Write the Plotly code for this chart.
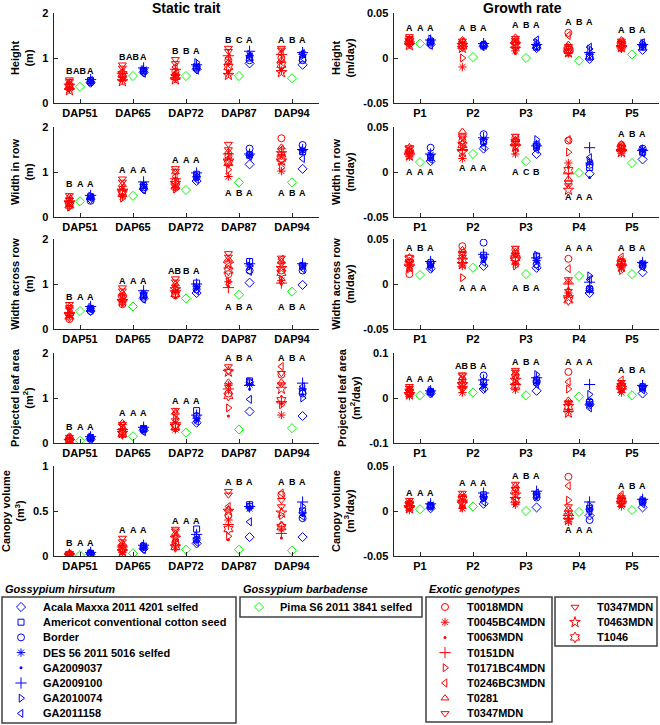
import plotly.graph_objects as go

W, H = 660, 725

static_cats = ["DAP51", "DAP65", "DAP72", "DAP87", "DAP94"]
rate_cats = ["P1", "P2", "P3", "P4", "P5"]

exotic_names = ["T0018MDN", "T0045BC4MDN", "T0063MDN", "T0151DN", "T0171BC4MDN",
                "T0246BC3MDN", "T0281", "T0347MDN", "T0347MDN", "T0463MDN", "T1046"]
hirsutum_names = ["Acala Maxxa 2011 4201 selfed", "Americot conventional cotton seed",
                  "Border", "DES 56 2011 5016 selfed", "GA2009037", "GA2009100",
                  "GA2010074", "GA2011158"]
barbadense_names = ["Pima S6 2011 3841 selfed"]

# ---- static traits: rows = genotype, columns = DAP51..DAP94
height_static_exotic = [
    [0.40, 0.62, 0.70, 0.95, 1.00], [0.30, 0.50, 0.55, 0.65, 0.72], [0.35, 0.58, 0.62, 0.85, 0.90],
    [0.42, 0.66, 0.75, 1.05, 1.08], [0.33, 0.55, 0.60, 0.75, 0.80], [0.45, 0.70, 0.80, 1.00, 1.10],
    [0.38, 0.60, 0.65, 0.90, 0.95], [0.52, 0.85, 0.97, 1.22, 1.22], [0.48, 0.78, 0.88, 1.15, 1.18],
    [0.28, 0.48, 0.52, 0.62, 0.68], [0.36, 0.64, 0.58, 0.80, 0.85]]
height_static_pima = [0.36, 0.60, 0.60, 0.60, 0.55]
height_static_hirsutum = [
    [0.45, 0.68, 0.75, 0.88, 0.85], [0.50, 0.72, 0.80, 1.00, 0.98], [0.46, 0.70, 0.78, 0.95, 0.95],
    [0.48, 0.75, 0.82, 1.05, 1.08], [0.44, 0.70, 0.76, 1.10, 1.15], [0.52, 0.78, 0.85, 1.15, 1.12],
    [0.47, 0.74, 0.90, 1.08, 1.05], [0.50, 0.66, 0.73, 1.02, 1.10]]
height_static_letters = [["B", "AB", "A"], ["B", "AB", "A"], ["B", "B", "A"], ["B", "C", "A"], ["A", "B", "A"]]
height_static_letter_y = [0.72, 1.02, 1.15, 1.40, 1.40]

wrow_static_exotic = [
    [0.30, 0.55, 0.80, 1.35, 1.75], [0.25, 0.45, 0.65, 0.90, 1.02], [0.28, 0.50, 0.70, 1.15, 1.20],
    [0.35, 0.60, 0.85, 1.40, 1.45], [0.22, 0.42, 0.62, 1.05, 1.10], [0.40, 0.65, 0.90, 1.30, 1.50],
    [0.45, 0.72, 1.00, 1.45, 1.55], [0.48, 0.85, 1.08, 1.62, 1.40], [0.38, 0.78, 1.02, 1.50, 1.35],
    [0.32, 0.58, 0.75, 1.25, 1.25], [0.26, 0.52, 0.68, 1.20, 1.30]]
wrow_static_pima = [0.35, 0.47, 0.60, 0.77, 0.77]
wrow_static_hirsutum = [
    [0.40, 0.62, 0.80, 1.17, 1.07], [0.45, 0.70, 0.95, 1.38, 1.45], [0.36, 0.66, 0.88, 1.52, 1.60],
    [0.44, 0.72, 0.90, 1.37, 1.48], [0.42, 0.65, 0.85, 1.36, 1.45], [0.48, 0.78, 0.98, 1.40, 1.50],
    [0.46, 0.68, 0.92, 1.38, 1.47], [0.43, 0.60, 0.83, 1.35, 1.30]]
wrow_static_letters = [["B", "A", "A"], ["A", "A", "A"], ["A", "A", "A"], ["A", "B", "A"], ["A", "B", "A"]]
wrow_static_letter_y = [0.73, 1.04, 1.27, 0.53, 0.53]

wacross_static_exotic = [
    [0.22, 0.55, 0.75, 1.22, 1.30], [0.30, 0.60, 0.80, 1.05, 1.08], [0.26, 0.52, 0.70, 0.95, 1.00],
    [0.35, 0.65, 0.85, 0.92, 1.02], [0.40, 0.70, 0.90, 1.05, 1.10], [0.45, 0.75, 0.95, 1.40, 1.55],
    [0.50, 0.80, 1.00, 1.55, 1.50], [0.55, 0.92, 1.12, 1.68, 1.45], [0.48, 0.85, 1.05, 1.60, 1.58],
    [0.33, 0.62, 0.88, 1.45, 1.35], [0.28, 0.68, 0.78, 1.30, 1.25]]
wacross_static_pima = [0.40, 0.50, 0.68, 0.76, 0.83]
wacross_static_hirsutum = [
    [0.40, 0.68, 0.80, 1.03, 0.98], [0.45, 0.75, 1.02, 1.50, 1.40], [0.40, 0.72, 0.88, 1.30, 1.30],
    [0.46, 0.80, 0.95, 1.40, 1.42], [0.42, 0.70, 0.90, 1.38, 1.38], [0.50, 0.85, 1.00, 1.45, 1.45],
    [0.48, 0.78, 0.92, 1.40, 1.40], [0.44, 0.66, 0.85, 1.28, 1.34]]
wacross_static_letters = [["B", "A", "A"], ["A", "A", "A"], ["AB", "B", "A"], ["A", "B", "A"], ["A", "B", "A"]]
wacross_static_letter_y = [0.71, 1.07, 1.29, 0.49, 0.49]

leaf_static_exotic = [
    [0.05, 0.25, 0.40, 1.10, 1.52], [0.02, 0.18, 0.30, 1.28, 0.62], [0.00, 0.15, 0.27, 0.60, 0.88],
    [0.08, 0.30, 0.45, 1.20, 0.92], [0.10, 0.35, 0.55, 0.78, 0.85], [0.12, 0.40, 0.65, 1.25, 1.70],
    [0.15, 0.45, 0.68, 1.35, 1.35], [0.13, 0.42, 0.73, 1.70, 1.55], [0.06, 0.28, 0.50, 1.60, 1.30],
    [0.04, 0.22, 0.38, 1.58, 1.20], [0.03, 0.20, 0.35, 1.05, 0.95]]
leaf_static_pima = [0.05, 0.15, 0.23, 0.30, 0.33]
leaf_static_hirsutum = [
    [0.08, 0.28, 0.45, 0.70, 0.60], [0.12, 0.32, 0.72, 1.38, 1.15], [0.10, 0.30, 0.60, 1.35, 1.10],
    [0.11, 0.33, 0.55, 1.30, 1.20], [0.09, 0.27, 0.50, 1.20, 1.08], [0.14, 0.35, 0.62, 1.28, 1.33],
    [0.13, 0.30, 0.52, 1.36, 1.00], [0.10, 0.25, 0.48, 0.97, 1.25]]
leaf_static_letters = [["B", "A", "A"], ["A", "A", "A"], ["A", "A", "A"], ["A", "B", "A"], ["A", "B", "A"]]
leaf_static_letter_y = [0.35, 0.66, 0.93, 1.88, 1.88]

canopy_static_exotic = [
    [0.01, 0.08, 0.15, 0.45, 0.68], [0.00, 0.04, 0.10, 0.40, 0.30], [0.00, 0.03, 0.08, 0.18, 0.20],
    [0.02, 0.10, 0.12, 0.35, 0.25], [0.01, 0.06, 0.18, 0.22, 0.45], [0.02, 0.12, 0.22, 0.55, 0.70],
    [0.03, 0.14, 0.25, 0.52, 0.35], [0.03, 0.20, 0.30, 0.72, 0.62], [0.02, 0.16, 0.28, 0.68, 0.55],
    [0.01, 0.05, 0.20, 0.50, 0.48], [0.00, 0.09, 0.10, 0.30, 0.32]]
canopy_static_pima = [0.01, 0.03, 0.07, 0.07, 0.06]
canopy_static_hirsutum = [
    [0.02, 0.08, 0.14, 0.21, 0.21], [0.03, 0.11, 0.30, 0.57, 0.50], [0.02, 0.10, 0.18, 0.55, 0.42],
    [0.03, 0.10, 0.20, 0.53, 0.48], [0.02, 0.09, 0.16, 0.52, 0.45], [0.04, 0.12, 0.24, 0.55, 0.60],
    [0.03, 0.11, 0.22, 0.54, 0.55], [0.01, 0.07, 0.15, 0.38, 0.44]]
canopy_static_letters = [["B", "A", "A"], ["A", "A", "A"], ["A", "A", "A"], ["A", "B", "A"], ["A", "B", "A"]]
canopy_static_letter_y = [0.15, 0.29, 0.39, 0.82, 0.82]

# ---- growth rates: rows = genotype, columns = P1..P5
height_rate_exotic = [
    [0.016, 0.014, 0.018, 0.028, 0.015], [0.015, -0.010, 0.008, 0.005, 0.010], [0.013, 0.012, 0.005, 0.003, 0.008],
    [0.018, 0.016, 0.012, 0.010, 0.013], [0.017, 0.000, 0.010, 0.012, 0.016], [0.020, 0.018, 0.020, 0.025, 0.018],
    [0.021, 0.020, 0.023, 0.015, 0.020], [0.024, 0.019, 0.022, 0.013, 0.019], [0.022, 0.015, 0.017, 0.008, 0.017],
    [0.014, 0.011, 0.015, 0.006, 0.012], [0.019, 0.013, 0.014, 0.009, 0.014]]
height_rate_pima = [0.016, 0.001, 0.000, -0.003, 0.004]
height_rate_hirsutum = [
    [0.015, 0.013, 0.011, -0.001, 0.009], [0.018, 0.014, 0.012, 0.002, 0.012], [0.017, 0.015, 0.013, 0.001, 0.013],
    [0.019, 0.013, 0.014, 0.004, 0.014], [0.016, 0.012, 0.010, 0.000, 0.011], [0.020, 0.016, 0.015, 0.006, 0.015],
    [0.021, 0.014, 0.017, 0.010, 0.016], [0.014, 0.015, 0.020, 0.012, 0.017]]
height_rate_letters = [["A", "A", "A"], ["A", "B", "A"], ["A", "B", "A"], ["A", "B", "A"], ["A", "B", "A"]]
height_rate_letter_y = [0.033, 0.033, 0.037, 0.040, 0.031]

wrow_rate_exotic = [
    [0.022, 0.035, 0.038, 0.035, 0.030], [0.017, 0.015, 0.020, 0.010, 0.021], [0.019, 0.020, 0.025, 0.005, 0.023],
    [0.021, 0.025, 0.030, -0.002, 0.025], [0.023, 0.028, 0.024, 0.022, 0.027], [0.025, 0.032, 0.034, 0.036, 0.029],
    [0.024, 0.045, 0.036, -0.008, 0.031], [0.027, 0.040, 0.040, -0.012, 0.028], [0.020, 0.038, 0.032, -0.015, 0.024],
    [0.018, 0.022, 0.028, -0.020, 0.022], [0.026, 0.030, 0.033, 0.002, 0.026]]
wrow_rate_pima = [0.011, 0.020, 0.012, -0.001, 0.010]
wrow_rate_hirsutum = [
    [0.012, 0.026, 0.020, -0.002, 0.014], [0.016, 0.034, 0.028, 0.005, 0.022], [0.027, 0.042, 0.030, 0.008, 0.026],
    [0.019, 0.036, 0.031, 0.010, 0.025], [0.015, 0.030, 0.027, -0.006, 0.023], [0.020, 0.038, 0.029, 0.027, 0.024],
    [0.018, 0.033, 0.036, 0.012, 0.024], [0.014, 0.028, 0.025, 0.016, 0.021]]
wrow_rate_letters = [["A", "A", "A"], ["A", "A", "A"], ["A", "C", "B"], ["A", "A", "A"], ["A", "B", "A"]]
wrow_rate_letter_y = [0.000, 0.005, 0.000, -0.028, 0.042]

wacross_rate_exotic = [
    [0.011, 0.042, 0.038, 0.028, 0.024], [0.020, 0.020, 0.022, -0.010, 0.018], [0.018, 0.024, 0.025, -0.005, 0.020],
    [0.022, 0.028, 0.030, 0.000, 0.022], [0.017, 0.007, 0.020, -0.012, 0.015], [0.024, 0.035, 0.034, 0.017, 0.030],
    [0.026, 0.038, 0.036, 0.003, 0.027], [0.030, 0.033, 0.040, 0.005, 0.026], [0.025, 0.030, 0.032, -0.008, 0.021],
    [0.019, 0.022, 0.027, -0.015, 0.019], [0.028, 0.026, 0.029, -0.018, 0.023]]
wacross_rate_pima = [0.010, 0.018, 0.011, 0.009, 0.011]
wacross_rate_hirsutum = [
    [0.017, 0.020, 0.018, -0.010, 0.013], [0.022, 0.032, 0.031, -0.006, 0.022], [0.024, 0.046, 0.022, -0.005, 0.020],
    [0.023, 0.030, 0.026, -0.007, 0.023], [0.019, 0.025, 0.024, -0.004, 0.021], [0.025, 0.033, 0.029, 0.002, 0.024],
    [0.020, 0.028, 0.032, 0.009, 0.022], [0.018, 0.024, 0.020, 0.005, 0.019]]
wacross_rate_letters = [["A", "B", "A"], ["A", "A", "A"], ["A", "B", "A"], ["A", "A", "A"], ["A", "B", "A"]]
wacross_rate_letter_y = [0.040, -0.004, -0.004, 0.040, 0.040]

leaf_rate_exotic = [
    [0.010, 0.040, 0.050, 0.058, 0.025], [0.004, 0.012, 0.018, -0.030, 0.012], [0.006, 0.015, 0.022, -0.025, 0.015],
    [0.012, 0.025, 0.030, -0.015, 0.020], [0.015, 0.020, 0.035, 0.020, 0.018], [0.018, 0.035, 0.045, 0.036, 0.040],
    [0.020, 0.045, 0.055, -0.005, 0.032], [0.026, 0.050, 0.062, -0.010, 0.035], [0.022, 0.052, 0.058, -0.012, 0.028],
    [0.008, 0.030, 0.040, -0.033, 0.022], [0.014, 0.028, 0.026, -0.020, 0.026]]
leaf_rate_pima = [0.006, 0.012, 0.006, 0.003, 0.006]
leaf_rate_hirsutum = [
    [0.010, 0.020, 0.016, -0.015, 0.010], [0.014, 0.035, 0.040, -0.010, 0.022], [0.013, 0.050, 0.035, -0.008, 0.025],
    [0.015, 0.030, 0.038, -0.012, 0.026], [0.012, 0.025, 0.032, -0.018, 0.020], [0.016, 0.040, 0.045, 0.030, 0.028],
    [0.017, 0.028, 0.052, 0.008, 0.024], [0.011, 0.022, 0.030, -0.022, 0.018]]
leaf_rate_letters = [["A", "A", "A"], ["AB", "B", "A"], ["A", "B", "A"], ["A", "A", "A"], ["A", "B", "A"]]
leaf_rate_letter_y = [0.042, 0.071, 0.080, 0.080, 0.062]

canopy_rate_exotic = [
    [0.004, 0.010, 0.022, 0.038, 0.012], [0.001, 0.003, 0.007, -0.012, 0.005], [0.002, 0.005, 0.010, -0.008, 0.007],
    [0.006, 0.012, 0.015, -0.005, 0.010], [0.005, 0.004, 0.009, 0.012, 0.008], [0.008, 0.015, 0.025, 0.028, 0.018],
    [0.010, 0.018, 0.028, 0.002, 0.016], [0.012, 0.020, 0.030, 0.005, 0.015], [0.009, 0.016, 0.024, -0.002, 0.013],
    [0.003, 0.008, 0.018, -0.010, 0.009], [0.007, 0.013, 0.012, -0.006, 0.011]]
canopy_rate_pima = [0.002, 0.005, 0.000, -0.001, 0.001]
canopy_rate_hirsutum = [
    [0.003, 0.008, 0.004, -0.005, 0.004], [0.006, 0.018, 0.018, 0.003, 0.011], [0.005, 0.015, 0.015, -0.010, 0.010],
    [0.007, 0.016, 0.019, 0.002, 0.012], [0.004, 0.012, 0.014, -0.004, 0.009], [0.008, 0.020, 0.022, 0.010, 0.013],
    [0.006, 0.014, 0.017, 0.006, 0.012], [0.005, 0.010, 0.020, 0.000, 0.008]]
canopy_rate_letters = [["A", "A", "A"], ["A", "A", "A"], ["A", "B", "A"], ["A", "A", "A"], ["A", "B", "A"]]
canopy_rate_letter_y = [0.020, 0.031, 0.039, -0.021, 0.028]

# ---- styling
RED, GREEN, BLUE = "#FF0000", "#00FF00", "#0000FF"
AXC = "#262626"
FONT = "Liberation Sans, Arial, sans-serif"

# (symbol, size); "point" is a small filled dot
exotic_symbols = [("circle-open", 7), ("asterisk-open", 7), ("point", 3), ("cross-thin-open", 8),
                  ("triangle-right-open", 7), ("triangle-left-open", 7), ("triangle-up-open", 7),
                  ("triangle-down-open", 7), ("triangle-down-open", 7), ("star-open", 8), ("hexagram-open", 8)]
hirsutum_symbols = [("diamond-open", 7), ("square-open", 6), ("circle-open", 7), ("asterisk-open", 7),
                    ("point", 3), ("cross-thin-open", 8), ("triangle-right-open", 7), ("triangle-left-open", 7)]
pima_symbol = ("diamond-open", 7)


def mk(sym, color):
    s, size = sym
    if s == "point":
        return dict(symbol="circle", size=size, color=color, line=dict(width=0))
    return dict(symbol=s, size=size, color=color, line=dict(width=1, color=color))


panels = [
    # row 0
    (height_static_exotic, height_static_pima, height_static_hirsutum, height_static_letters, height_static_letter_y,
     static_cats, "Height<br>(m)", [0, 2], [0, 1, 2], ["0", "1", "2"]),
    (height_rate_exotic, height_rate_pima, height_rate_hirsutum, height_rate_letters, height_rate_letter_y,
     rate_cats, "Height<br>(m/day)", [-0.05, 0.05], [-0.05, 0, 0.05], ["-0.05", "0", "0.05"]),
    # row 1
    (wrow_static_exotic, wrow_static_pima, wrow_static_hirsutum, wrow_static_letters, wrow_static_letter_y,
     static_cats, "Width in row<br>(m)", [0, 2], [0, 1, 2], ["0", "1", "2"]),
    (wrow_rate_exotic, wrow_rate_pima, wrow_rate_hirsutum, wrow_rate_letters, wrow_rate_letter_y,
     rate_cats, "Width in row<br>(m/day)", [-0.05, 0.05], [-0.05, 0, 0.05], ["-0.05", "0", "0.05"]),
    # row 2
    (wacross_static_exotic, wacross_static_pima, wacross_static_hirsutum, wacross_static_letters, wacross_static_letter_y,
     static_cats, "Width across row<br>(m)", [0, 2], [0, 1, 2], ["0", "1", "2"]),
    (wacross_rate_exotic, wacross_rate_pima, wacross_rate_hirsutum, wacross_rate_letters, wacross_rate_letter_y,
     rate_cats, "Width across row<br>(m/day)", [-0.05, 0.05], [-0.05, 0, 0.05], ["-0.05", "0", "0.05"]),
    # row 3
    (leaf_static_exotic, leaf_static_pima, leaf_static_hirsutum, leaf_static_letters, leaf_static_letter_y,
     static_cats, "Projected leaf area<br>(m<sup>2</sup>)", [0, 2], [0, 1, 2], ["0", "1", "2"]),
    (leaf_rate_exotic, leaf_rate_pima, leaf_rate_hirsutum, leaf_rate_letters, leaf_rate_letter_y,
     rate_cats, "Projected leaf area<br>(m<sup>2</sup>/day)", [-0.1, 0.1], [-0.1, 0, 0.1], ["-0.1", "0", "0.1"]),
    # row 4
    (canopy_static_exotic, canopy_static_pima, canopy_static_hirsutum, canopy_static_letters, canopy_static_letter_y,
     static_cats, "Canopy volume<br>(m<sup>3</sup>)", [0, 1], [0, 0.5, 1], ["0", "0.5", "1"]),
    (canopy_rate_exotic, canopy_rate_pima, canopy_rate_hirsutum, canopy_rate_letters, canopy_rate_letter_y,
     rate_cats, "Canopy volume<br>(m<sup>3</sup>/day)", [-0.05, 0.05], [-0.05, 0, 0.05], ["-0.05", "0", "0.05"]),
]

# pixel layout of the axes boxes
col_px = [(53.5, 318.5), (393.5, 658.5)]
row_top_px = [13, 127, 239, 353, 466]
row_h_px = 90
OFF = 0.2

fig = go.Figure()
layout = {}
annotations = []

for k, (exo, pima, hirs, letters, letter_y, cats, ytitle, yr, ytv, ytt) in enumerate(panels):
    r, c = divmod(k, 2)
    n = k + 1
    xa = "x" if n == 1 else f"x{n}"
    ya = "y" if n == 1 else f"y{n}"
    xpos = [i + 1 for i in range(len(cats))]

    for row, sym in zip(exo, exotic_symbols):
        fig.add_trace(go.Scatter(x=[p - OFF for p in xpos], y=row, mode="markers",
                                 marker=mk(sym, RED), xaxis=xa, yaxis=ya, showlegend=False))
    fig.add_trace(go.Scatter(x=xpos, y=pima, mode="markers", marker=mk(pima_symbol, GREEN),
                             xaxis=xa, yaxis=ya, showlegend=False))
    for row, sym in zip(hirs, hirsutum_symbols):
        fig.add_trace(go.Scatter(x=[p + OFF for p in xpos], y=row, mode="markers",
                                 marker=mk(sym, BLUE), xaxis=xa, yaxis=ya, showlegend=False))

    x0, x1 = col_px[c]
    top = row_top_px[r]
    layout["xaxis" if n == 1 else f"xaxis{n}"] = dict(
        domain=[x0 / W, x1 / W], anchor=ya, range=[0.5, 5.5], tickvals=xpos, ticktext=cats,
        ticks="inside", ticklen=4, tickcolor=AXC, showline=True, linecolor=AXC, linewidth=1,
        showgrid=False, zeroline=False, fixedrange=True, automargin=False,
        tickfont=dict(size=11, color="black", family=FONT, weight="bold"))
    layout["yaxis" if n == 1 else f"yaxis{n}"] = dict(
        domain=[1 - (top + row_h_px) / H, 1 - top / H], anchor=xa, range=yr, tickvals=ytv, ticktext=ytt,
        ticks="inside", ticklen=4, tickcolor=AXC, showline=True, linecolor=AXC, linewidth=1,
        showgrid=False, zeroline=False, fixedrange=True, automargin=False, ticklabelstandoff=2,
        tickfont=dict(size=11, color="black", family=FONT, weight="bold"),
        title=dict(text=ytitle, standoff=6, font=dict(size=11, color="black", family=FONT, weight="bold")))

    for i, (trio, ly) in enumerate(zip(letters, letter_y)):
        for j, txt in enumerate(trio):
            annotations.append(dict(x=xpos[i] + (j - 1) * OFF, y=ly, xref=xa, yref=ya, text=txt,
                                    xanchor="center", yanchor="middle", showarrow=False,
                                    font=dict(size=9, color="black", family=FONT, weight="bold")))

# column titles
for txt, xc in [("Static trait", 186), ("Growth rate", 522)]:
    annotations.append(dict(x=xc / W, y=1 - 8 / H, xref="paper", yref="paper", text=txt, showarrow=False,
                            xanchor="center", yanchor="middle",
                            font=dict(size=14, color="black", family=FONT, weight="bold")))

# ---- legend boxes drawn on an overlay axis in pixel units
legend_boxes = [
    # title, names, symbols, color, box x0, x1, y0, y1, marker x, text x
    ("Gossypium hirsutum", hirsutum_names, hirsutum_symbols, BLUE, 2, 236, 597, 723, 21, 41),
    ("Gossypium barbadense", barbadense_names, [pima_symbol], GREEN, 240, 422, 597, 617, 259, 278),
    ("Exotic genotypes", exotic_names[:8], exotic_symbols[:8], RED, 426, 552, 597, 722, 445, 465),
    (None, exotic_names[8:], exotic_symbols[8:], RED, 555, 657, 597, 646, 575, 595),
]
item0, step = 607, 15.2
shapes = []
for title, names, syms, color, bx0, bx1, by0, by1, mx, tx in legend_boxes:
    shapes.append(dict(type="rect", xref="x11", yref="y11", x0=bx0, x1=bx1, y0=by0, y1=by1,
                       line=dict(color="#404040", width=1.5), fillcolor="white", layer="below"))
    if title:
        annotations.append(dict(x=bx0 + 1, y=589, xref="x11", yref="y11", text=title, showarrow=False,
                                xanchor="left", yanchor="middle",
                                font=dict(size=11, color="black", family=FONT, weight="bold", style="italic")))
    for i, (nm, sym) in enumerate(zip(names, syms)):
        yy = item0 + i * step
        fig.add_trace(go.Scatter(x=[mx], y=[yy], mode="markers", marker=mk(sym, color),
                                 xaxis="x11", yaxis="y11", showlegend=False, hoverinfo="skip"))
        annotations.append(dict(x=tx, y=yy, xref="x11", yref="y11", text=nm, showarrow=False,
                                xanchor="left", yanchor="middle",
                                font=dict(size=11, color="black", family=FONT, weight="bold")))

layout["xaxis11"] = dict(domain=[0, 1], range=[0, W], visible=False, fixedrange=True, anchor="y11",
                         automargin=False)
layout["yaxis11"] = dict(domain=[0, 1], range=[H, 0], visible=False, fixedrange=True, anchor="x11",
                         automargin=False)

fig.update_layout(**layout)
fig.update_layout(
    width=W, height=H, margin=dict(l=0, r=0, t=0, b=0, autoexpand=False),
    paper_bgcolor="white", plot_bgcolor="rgba(0,0,0,0)",
    font=dict(family=FONT, color="black", weight="bold"),
    annotations=annotations, shapes=shapes, showlegend=False,
)

# the page body has a default 8px margin; drop it so the figure fills the window exactly
fig.write_html("out.html", config={"displayModeBar": False},
               post_script="document.body.style.margin='0';document.body.style.overflow='hidden';")
